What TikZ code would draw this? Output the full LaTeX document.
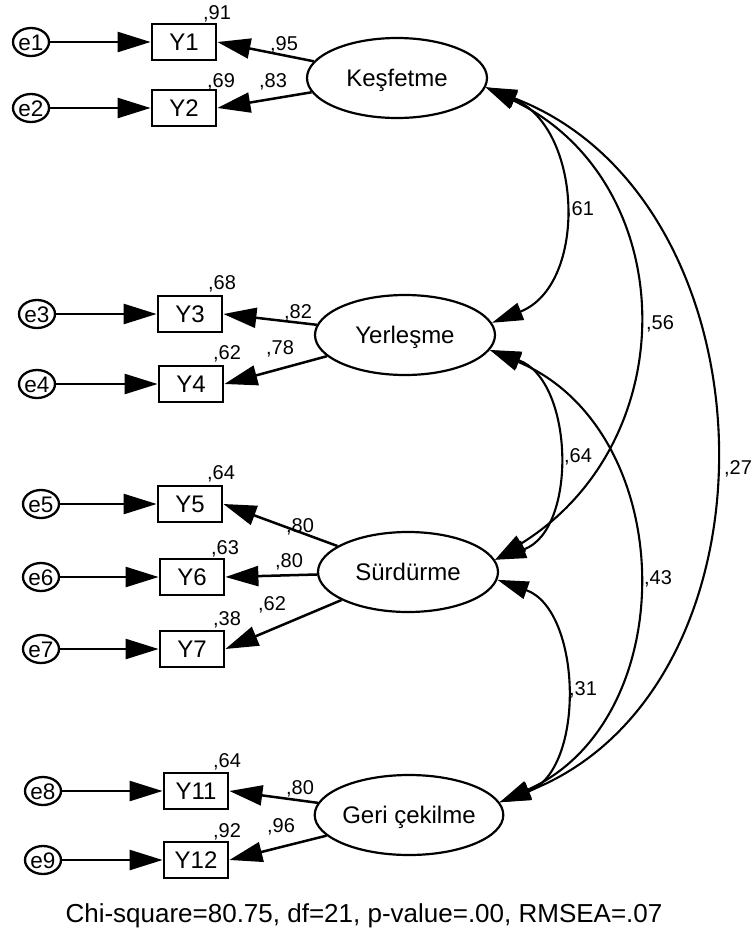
\documentclass[tikz,border=0pt]{standalone}
\usepackage{fontspec}
\setmainfont{Liberation Sans}
\usetikzlibrary{arrows.meta,shapes.geometric}
\begin{document}
\begin{tikzpicture}[x=1pt,y=-1pt,
  lat/.style={ellipse, draw, line width=2.2pt, minimum width=180pt, minimum height=80pt, inner sep=0pt,
    text height=17.2pt, text depth=0pt, font=\fontsize{24}{28}\selectfont},
  obs/.style={rectangle, draw, line width=2.8pt, minimum width=64pt, minimum height=36pt, inner sep=0pt,
    text height=17.2pt, text depth=0pt, font=\fontsize{24}{28}\selectfont},
  err/.style={ellipse, draw, line width=2.3pt, minimum width=36pt, minimum height=28pt, inner sep=0pt,
    text height=16pt, text depth=0pt, font=\fontsize{22.5}{26}\selectfont},
  val/.style={inner sep=0pt, text height=14.3pt, text depth=0pt, font=\fontsize{20}{24}\selectfont},
  errarr/.style={line width=2.5pt, -{Triangle[length=33pt,width=20pt]}},
  load/.style={line width=2.5pt, -{Triangle[length=33pt,width=20pt]}},
  cov/.style={line width=2.1pt, {Triangle[length=31pt,width=18pt]}-{Triangle[length=31pt,width=18pt]}},
]
\useasboundingbox (0,0) rectangle (755,935);

% latent variables
\node[lat] (K) at (397,78) {Keşfetme};
\node[lat] (Yr) at (405,335) {Yerleşme};
\node[lat] (S) at (408,572) {Sürdürme};
\node[lat] (G) at (409,815) {Geri çekilme};

% observed
\node[obs] (y1) at (184,42) {Y1};
\node[obs] (y2) at (184,108) {Y2};
\node[obs] (y3) at (190,314) {Y3};
\node[obs] (y4) at (191,384) {Y4};
\node[obs] (y5) at (190,504) {Y5};
\node[obs] (y6) at (192,577) {Y6};
\node[obs] (y7) at (192,649) {Y7};
\node[obs] (y11) at (196,791) {Y11};
\node[obs] (y12) at (196,860) {Y12};

% errors
\node[err] (e1) at (31,42) {e1};
\node[err] (e2) at (31,108) {e2};
\node[err] (e3) at (37,314) {e3};
\node[err] (e4) at (37,384) {e4};
\node[err] (e5) at (41,504) {e5};
\node[err] (e6) at (41,577) {e6};
\node[err] (e7) at (41,649) {e7};
\node[err] (e8) at (43,791) {e8};
\node[err] (e9) at (43,860) {e9};

% error arrows
\draw[errarr] (e1) -- (y1);
\draw[errarr] (e2) -- (y2);
\draw[errarr] (e3) -- (y3);
\draw[errarr] (e4) -- (y4);
\draw[errarr] (e5) -- (y5);
\draw[errarr] (e6) -- (y6);
\draw[errarr] (e7) -- (y7);
\draw[errarr] (e8) -- (y11);
\draw[errarr] (e9) -- (y12);

% loadings
\draw[load] (K) -- (y1.east);
\draw[load] (K) -- (y2.east);
\draw[load] (Yr) -- (y3.east);
\draw[load] (Yr) -- (y4.east);
\draw[load] (S) -- (y5.east);
\draw[load] (S) -- (y6.east);
\draw[load] (S) -- (y7.east);
\draw[load] (G) -- (y11.east);
\draw[load] (G) -- (y12.east);

% covariances
\draw[cov] (K.-6.5) .. controls (583,128) and (588,285) .. (Yr.8);
\draw[cov] (K.-6.5) .. controls (680,180) and (688,440) .. (S.8);
\draw[cov] (K.-6.5) .. controls (780,200) and (790,690) .. (G.8.4);
\draw[cov] (Yr.-10) .. controls (574,380) and (578,530) .. (S.8);
\draw[cov] (Yr.-10) .. controls (680,430) and (684,720) .. (G.8.4);
\draw[cov] (S.-5) .. controls (582,610) and (586,770) .. (G.8.4);

% values
\node[val] (v91) at (217,12) {,91};
\node[val] (v95) at (284,43) {,95};
\node[val] (v83) at (273,80) {,83};
\node[val] (v69) at (221,80) {,69};
\node[val] (v68) at (222,282) {,68};
\node[val] (v82) at (298,311) {,82};
\node[val] (v78) at (280,347) {,78};
\node[val] (v62a) at (227,352) {,62};
\node[val] (v64a) at (221,472) {,64};
\node[val] (v80a) at (300,525) {,80};
\node[val] (v63) at (225,547) {,63};
\node[val] (v80b) at (289,560) {,80};
\node[val] (v62b) at (272,603) {,62};
\node[val] (v38) at (227,618) {,38};
\node[val] (v64b) at (227,760) {,64};
\node[val] (v80c) at (300,787) {,80};
\node[val] (v96) at (281,825) {,96};
\node[val] (v92) at (227,830) {,92};
\node[val] (c61) at (580,208) {,61};
\node[val] (c56) at (660,322) {,56};
\node[val] (c27) at (738,467) {,27};
\node[val] (c64) at (578,455) {,64};
\node[val] (c43) at (658,577) {,43};
\node[val] (c31) at (583,688) {,31};

\node[inner sep=0pt, anchor=base, font=\fontsize{26}{30}\selectfont] (fit) at (364,922)
  {Chi-square=80.75, df=21, p-value=.00, RMSEA=.07};
\end{tikzpicture}
\end{document}
